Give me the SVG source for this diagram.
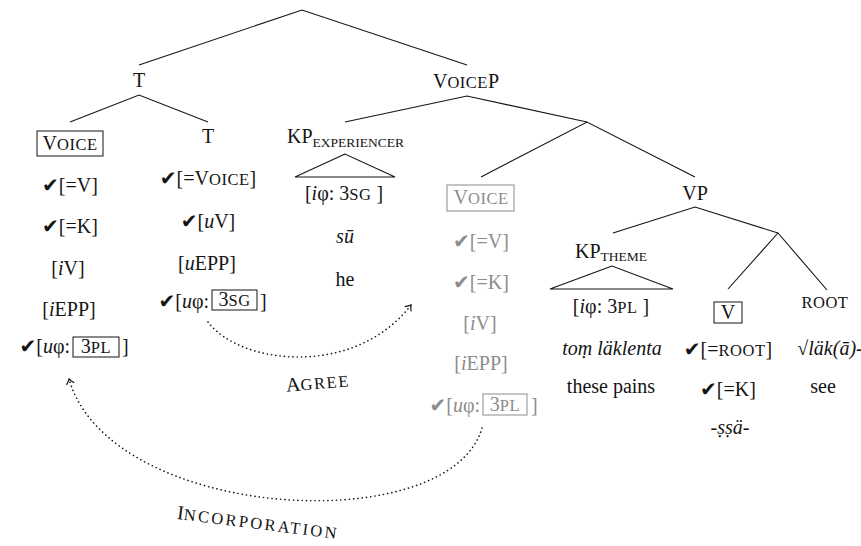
<svg xmlns="http://www.w3.org/2000/svg" width="861" height="546" viewBox="0 0 861 546">
<style>
text { font-family: "Liberation Serif", "DejaVu Serif", serif; font-size: 20px; fill: #141414; }
.m { text-anchor: middle; }
.e { text-anchor: end; }
.sc { font-size: 16.5px; letter-spacing: 0.5px; }
.lab { font-size: 16.5px; letter-spacing: 1.6px; }
.lab2 { font-size: 16.5px; letter-spacing: 2.4px; }
.sub { font-size: 13.5px; }
.it { font-style: italic; }
.ck { font-family: "DejaVu Sans", sans-serif; font-size: 20px; }
.gray text { fill: #8c8c8c; }
.box { fill: none; stroke: #141414; stroke-width: 1; }
.gray .box { stroke: #8c8c8c; }
.edge { fill: none; stroke: #141414; stroke-width: 1.1; }
.dot { fill: none; stroke: #141414; stroke-width: 1.6; stroke-linecap: round; stroke-dasharray: 0.1 4.2; }
</style>
<defs>
<marker id="ah" markerWidth="12" markerHeight="12" refX="0" refY="0" viewBox="-8 -6 12 12" orient="auto" markerUnits="userSpaceOnUse">
<path d="M -5 -4 Q -2 -1 0 0 Q -2 1 -5 4" fill="none" stroke="#141414" stroke-width="1.2"/>
</marker>
</defs>

<g id="connectors">
<path class="edge" d="M 139 65 L 302 10 L 467 65"/>
<path class="edge" d="M 70 122 L 139 95 L 208 122"/>
<path class="edge" d="M 345 122 L 467 96 L 587 122"/>
<path class="edge" d="M 481 177 L 587 122 L 695 177"/>
<path class="edge" d="M 613 233 L 695 207 L 778 233"/>
<path class="edge" d="M 728 289 L 778 233 L 827 290"/>
<path class="edge" d="M 345 154 L 295 177 L 395 177 Z"/>
<path class="edge" d="M 612 266 L 550 289 L 673 289 Z"/>
<path id="agree" class="dot" d="M 208 322 C 240 365, 355 378, 411 305" marker-end="url(#ah)"/>
<path id="incorporation" class="dot" d="M 482 428 C 450 540, 110 522, 69 379" marker-end="url(#ah)"/>
</g>

<g id="n-T">
<text class="m" x="139" y="87">T</text>
</g>

<g id="n-Voice">
<rect class="box" x="37" y="131" width="66" height="25"/>
<text class="m" x="70" y="150">V<tspan class="sc">OICE</tspan></text>
<text class="m" x="70" y="192"><tspan class="ck">✔</tspan>[=V]</text>
<text class="m" x="70" y="233"><tspan class="ck">✔</tspan>[=K]</text>
<text class="m" x="68" y="275">[<tspan class="it">i</tspan>V]</text>
<text class="m" x="69" y="316">[<tspan class="it">i</tspan>EPP]</text>
<text class="e" x="70" y="353"><tspan class="ck">✔</tspan>[<tspan class="it">u</tspan>φ:</text>
<rect class="box" x="73" y="337" width="46" height="20"/>
<text class="m" x="96" y="353">3<tspan class="sc">PL</tspan></text>
<text x="122" y="353">]</text>
</g>

<g id="n-T2">
<text class="m" x="208" y="143">T</text>
<text class="m" x="208" y="185"><tspan class="ck">✔</tspan>[=V<tspan class="sc">OICE</tspan>]</text>
<text class="m" x="208" y="228"><tspan class="ck">✔</tspan>[<tspan class="it">u</tspan>V]</text>
<text class="m" x="207" y="270">[<tspan class="it">u</tspan>EPP]</text>
<text class="e" x="209" y="308"><tspan class="ck">✔</tspan>[<tspan class="it">u</tspan>φ:</text>
<rect class="box" x="212" y="290" width="45" height="20"/>
<text class="m" x="234.5" y="306">3<tspan class="sc">SG</tspan></text>
<text x="260" y="308">]</text>
</g>

<g id="n-VoiceP">
<text class="m" x="466" y="88">V<tspan class="sc">OICE</tspan>P</text>
</g>

<g id="n-KPexp">
<text x="287" y="143">KP<tspan class="sub" dy="4">EXPERIENCER</tspan></text>
<text class="m" x="344" y="200">[<tspan class="it">i</tspan>φ: 3<tspan class="sc">SG</tspan> ]</text>
<text class="m it" x="345" y="243">sū</text>
<text class="m" x="345" y="286">he</text>
</g>

<g id="n-VoiceLow" class="gray">
<rect class="box" x="447" y="185" width="67" height="26"/>
<text class="m" x="481" y="204">V<tspan class="sc">OICE</tspan></text>
<text class="m" x="481" y="248"><tspan class="ck">✔</tspan>[=V]</text>
<text class="m" x="481" y="289"><tspan class="ck">✔</tspan>[=K]</text>
<text class="m" x="480" y="330">[<tspan class="it">i</tspan>V]</text>
<text class="m" x="481" y="370">[<tspan class="it">i</tspan>EPP]</text>
<text class="e" x="480" y="412"><tspan class="ck">✔</tspan>[<tspan class="it">u</tspan>φ:</text>
<rect class="box" x="483" y="394" width="44" height="21"/>
<text class="m" x="505" y="411">3<tspan class="sc">PL</tspan></text>
<text x="531" y="412">]</text>
</g>

<g id="n-VP">
<text class="m" x="695" y="200">VP</text>
</g>

<g id="n-KPtheme">
<text x="575" y="258">KP<tspan class="sub" dy="3">THEME</tspan></text>
<text class="m" x="611" y="313">[<tspan class="it">i</tspan>φ: 3<tspan class="sc">PL</tspan> ]</text>
<text class="m it" x="612" y="355">toṃ läklenta</text>
<text class="m" x="611" y="393">these pains</text>
</g>

<g id="n-V">
<rect class="box" x="714" y="302" width="28" height="21"/>
<text class="m" x="728" y="319">V</text>
<text class="m" x="728" y="356"><tspan class="ck">✔</tspan>[=<tspan class="sc">ROOT</tspan>]</text>
<text class="m" x="728" y="396"><tspan class="ck">✔</tspan>[=K]</text>
<text class="m it" x="730" y="434">-ṣṣä-</text>
</g>

<g id="n-root">
<text class="m sc" x="825" y="308">ROOT</text>
<text class="m" x="830" y="355">√<tspan class="it">läk(ā)-</tspan></text>
<text class="m" x="823" y="393">see</text>
</g>

<g id="labels">
<text class="m" x="318" y="389" transform="rotate(-5 318 384)">A<tspan class="lab">GREE</tspan></text>
<text class="m" x="258" y="529" transform="rotate(7 258 524)">I<tspan class="lab2">NCORPORATION</tspan></text>
</g>
</svg>
